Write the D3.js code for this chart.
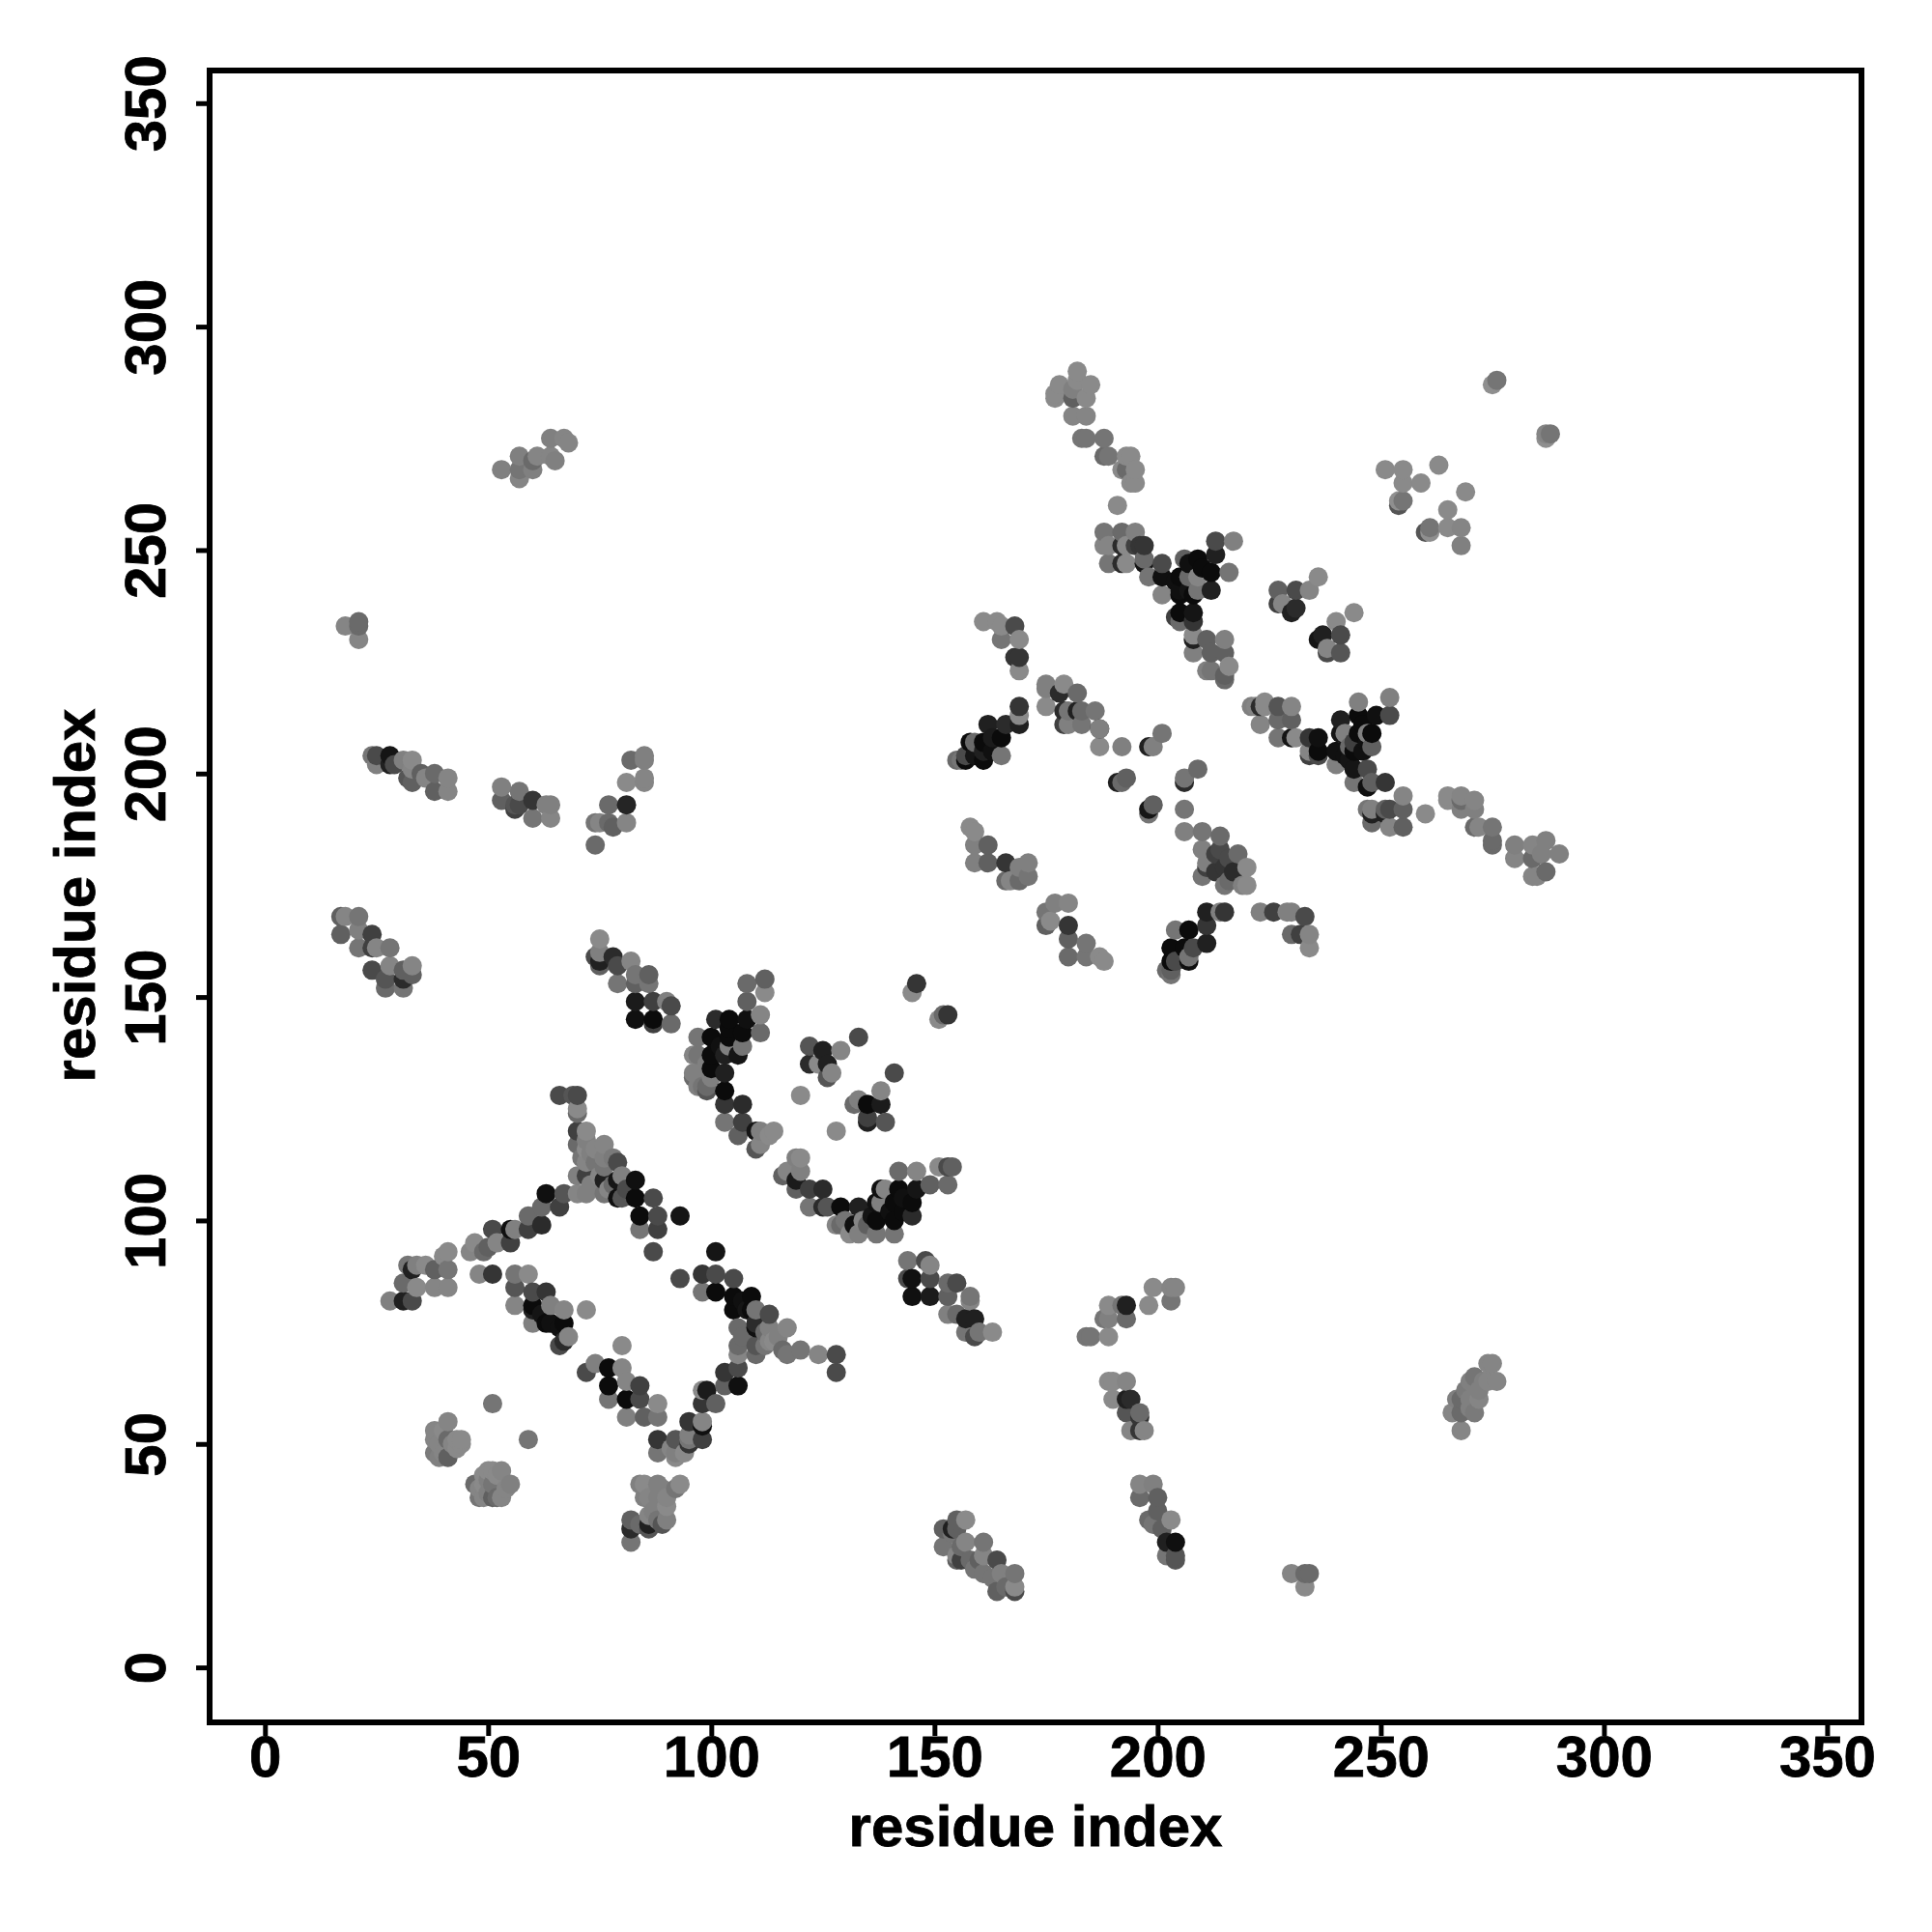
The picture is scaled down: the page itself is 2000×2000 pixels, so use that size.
<!DOCTYPE html>
<html><head><meta charset="utf-8">
<script src="https://cdn.jsdelivr.net/npm/d3@7/dist/d3.min.js"></script>
<style>html,body{margin:0;background:#fff}svg{display:block}
text{font-family:"Liberation Sans",Arial,sans-serif;font-weight:700;fill:#000;stroke:#000;stroke-width:.8}</style>
</head><body><div id="c"></div>
<script>
// Each contact: [residue x, residue y, grey level]
const topRightSparse=[[276,288,110],[275,287,135],[288,276,110],[287,275,135],[287,276,125],[251,268,130],[255,268,130],[255,265,130],[259,265,130],[263,269,130],[255,261,110],[254,260,80],[254,261,135],[269,263,130],[265,259,130],[265,255,130],[268,255,125],[268,251,120],[261,255,110],[260,254,80],[261,254,135]];
const topStrand=[[182,290,130],[178,287,130],[177,285,130],[177,284,130],[181,286,120],[181,284,90],[185,287,130],[184,284,130],[182,288,130],[181,280,125],[184,280,125],[184,275,110],[183,275,110],[188,275,110],[188,271,100],[189,271,110],[193,271,130],[194,271,130],[192,268,130],[195,268,130],[193,268,100],[195,265,130],[194,265,130],[191,260,130],[188,254,110],[192,254,100],[195,254,120],[188,251,125],[189,251,125],[192,251,40],[193,251,130],[195,251,60],[189,247,110],[192,247,40],[193,247,130],[197,251,50],[196,251,50],[197,248,100],[197,247,20],[201,247,70],[198,244,110],[201,244,15],[201,240,125],[206,248,90],[209,248,10],[205,244,10],[207,244,100],[209,244,125],[213,252,70],[217,252,120],[213,249,30],[212,245,10],[216,245,110],[212,241,30],[209,241,110],[205,240,10],[208,240,10],[205,236,10],[208,236,20],[204,235,60],[208,234,50],[205,234,100],[208,231,130],[208,230,30],[208,227,120],[211,230,90],[215,230,120],[212,227,90],[215,227,90],[211,223,120],[212,223,110],[215,222,90],[216,224,130],[215,221,100]];
const sideClusters=[[227,241,90],[231,241,70],[234,241,125],[236,244,130],[227,238,60],[228,238,125],[231,237,40],[230,236,30],[244,236,130],[240,234,130],[237,231,30],[236,230,20],[241,231,70],[241,227,80],[238,227,70],[238,228,125]];
const midUpperLeft=[[161,234,130],[164,234,130],[165,233,130],[168,233,70],[165,230,110],[169,230,130],[169,226,50],[168,226,50],[169,223,130],[169,215,50],[169,211,30],[169,213,130],[162,211,30],[166,211,40],[158,207,10],[159,207,100],[161,207,10],[165,208,10],[165,204,110],[161,203,10],[157,203,10],[156,203,110],[155,203,100],[157,204,70]];
const midCentre=[[175,220,120],[175,219,120],[179,220,130],[175,215,130],[178,218,40],[182,218,100],[179,214,40],[180,214,110],[182,214,30],[183,214,100],[186,214,110],[179,211,60],[180,211,120],[183,211,110],[187,210,60],[187,210,120],[187,206,130],[192,206,120],[198,206,30],[199,206,120],[201,209,110],[192,198,100],[191,198,30],[193,199,90],[198,192,20],[199,193,90],[198,191,110],[209,201,100],[206,199,110],[206,198,40],[206,192,110],[206,187,120]];
const midRight=[[210,187,110],[214,186,100],[210,183,120],[214,183,70],[218,182,100],[211,179,60],[211,180,120],[215,179,50],[217,178,40],[220,179,130],[215,175,110],[219,175,120],[220,175,130]];
const midLowerLeft=[[158,188,130],[159,187,130],[159,184,120],[162,184,90],[159,180,120],[162,180,90],[166,180,50],[169,179,120],[171,180,120],[166,176,100],[167,176,125],[169,176,100],[171,177,110],[177,171,120],[180,171,125],[175,169,110],[176,167,130],[175,166,90],[180,166,50],[180,163,90],[184,162,110],[180,159,100],[184,159,110],[187,159,130],[188,158,130]];
const midLowerBlack=[[211,169,30],[215,169,50],[214,169,120],[204,165,110],[207,165,10],[211,166,50],[211,162,30],[208,161,70],[203,161,10],[206,161,10],[207,158,15],[207,159,110],[204,158,70],[203,156,90],[202,156,100],[203,155,110],[203,158,10],[223,169,120],[226,169,60],[229,169,120],[230,169,120],[233,168,70],[230,164,100],[234,164,125],[234,161,130],[232,164,60]];
const rightStrand=[[221,215,120],[224,216,130],[222,215,125],[223,215,40],[224,215,130],[227,215,80],[230,215,125],[223,211,125],[227,212,100],[230,212,90],[227,208,110],[230,208,20],[231,208,130],[234,208,50],[236,208,15],[234,204,60],[234,205,125],[236,205,10],[236,204,70],[241,212,30],[245,216,120],[252,217,120],[252,213,70],[249,213,15],[245,213,10],[241,209,20],[242,209,120],[245,209,10],[248,209,10],[247,209,120],[240,205,15],[244,205,10],[243,206,100],[248,206,90],[244,207,60],[240,202,120],[244,201,20],[247,201,70],[244,198,110],[247,197,15],[248,198,90],[251,198,50],[255,195,125],[247,192,110],[248,192,120],[248,191,30],[251,192,90],[251,191,30],[252,192,70],[255,192,90],[248,189,100],[252,188,125],[255,188,90],[260,191,130],[265,195,130],[265,194,130],[268,195,125],[268,192,120],[268,194,100],[271,194,125],[271,192,120],[271,188,100],[272,188,125],[275,188,110],[275,185,100],[275,184,100],[280,184,120],[280,181,125],[284,184,125],[287,185,120],[290,182,120],[286,182,120],[284,181,100],[287,178,100],[284,177,125],[285,177,125]];
const centreUpper=[[75,163,130],[74,159,70],[75,160,120],[75,158,30],[75,157,90],[78,159,40],[79,157,70],[82,158,125],[79,153,110],[83,155,110],[83,153,90],[86,155,90],[86,153,110],[83,149,25],[87,149,60],[90,149,120],[91,148,70],[83,145,15],[87,145,10],[91,144,100],[87,144,60]];
const centreBlack=[[108,153,100],[112,154,90],[112,151,130],[108,149,90],[111,146,125],[111,142,100],[101,145,40],[104,145,10],[108,145,15],[97,141,110],[100,141,10],[104,141,10],[107,142,10],[97,137,110],[96,137,125],[100,137,10],[104,139,120],[107,139,110],[103,133,30],[100,133,120],[96,133,120],[96,132,100],[100,132,120],[99,130,100],[100,134,10],[103,129,10],[103,126,50],[107,126,40],[103,122,110],[107,122,60],[106,119,90],[110,120,20],[111,120,120],[114,120,130],[110,116,80],[111,117,125],[113,119,130],[99,129,80]];
const centreSmall=[[146,153,50],[145,151,130],[153,146,50],[151,145,130],[152,146,100],[122,139,80],[122,135,40],[125,138,30],[129,138,125],[133,141,70],[126,135,30],[127,133,125],[126,132,80],[124,135,130],[120,128,130],[128,120,130],[141,133,70],[138,129,125],[138,126,25],[135,126,10],[133,127,120],[132,126,100],[135,123,60],[135,122,30],[139,122,80]];
const centreLower=[[120,114,130],[119,114,120],[116,110,90],[117,111,125],[120,111,120],[119,109,25],[119,107,90],[122,107,60],[125,107,40],[122,103,110],[125,103,40],[126,103,80],[129,103,10],[133,103,30],[129,99,100],[128,99,125],[130,100,110],[132,99,15],[134,100,125],[131,97,130],[133,97,120],[137,97,110],[141,97,110],[137,100,10],[141,100,10],[145,101,40],[138,107,15],[139,107,125],[138,104,120],[137,104,15],[141,104,10],[142,107,10],[142,111,100],[146,111,125],[145,104,10],[146,107,20],[149,108,90],[153,108,100],[151,112,130],[153,112,70],[154,112,90]];
const loopTop=[[66,128,70],[69,128,80],[70,128,70],[70,124,100],[70,125,130],[70,120,60],[72,120,130],[70,117,100],[72,116,130],[76,117,125],[76,114,120],[79,113,70],[72,113,125],[70,110,120],[72,110,60],[76,109,30],[76,112,110],[80,110,120],[79,109,20],[83,109,15],[76,106,110],[77,107,125],[79,105,15],[80,105,80],[83,105,10],[87,105,70],[84,101,10],[88,101,70],[93,101,20],[84,98,110],[88,98,60],[87,93,70],[101,93,20],[93,87,70]];
const loopLeft=[[72,106,120],[70,106,125],[67,106,80],[63,106,15],[66,103,60],[62,103,100],[59,101,100],[62,99,40],[59,98,60],[56,98,120],[55,98,15],[51,98,70],[55,95,60],[52,95,125],[50,94,90],[47,95,130],[46,93,125],[49,93,100],[41,93,130],[40,92,130],[41,89,110],[38,89,90],[36,90,130],[34,90,120],[32,90,110],[33,89,30],[31,86,100],[34,85,130],[38,85,125],[41,85,125],[33,82,70],[31,82,30],[28,82,120],[48,88,125],[51,88,50]];
const loopInner=[[56,88,110],[59,88,130],[56,85,80],[60,84,70],[63,84,50],[56,81,125],[60,81,10],[64,81,120],[67,80,125],[72,80,130],[63,77,10],[60,77,120],[67,77,10],[68,74,125],[66,72,70],[67,73,40],[80,72,130],[72,66,70],[74,68,120],[77,67,10],[80,67,125],[81,64,125],[77,63,10],[84,63,60],[81,60,10],[84,60,70],[77,60,110],[88,59,130],[81,56,120],[85,56,90],[88,56,110],[88,51,50]];
const loopRight=[[98,88,50],[101,88,70],[105,87,70],[98,84,110],[101,84,10],[105,83,10],[109,83,10],[105,80,10],[109,80,10],[110,80,110],[113,79,70],[106,76,100],[110,76,15],[113,76,120],[117,76,125],[106,72,100],[110,72,80],[106,70,125],[110,70,100],[113,73,125],[117,70,110],[114,73,130],[120,71,110],[116,71,100],[124,70,125],[128,70,70],[128,66,70],[106,63,15],[106,67,70],[103,66,50],[103,63,90],[99,62,25],[98,62,130],[101,59,90],[98,59,50],[98,55,125],[98,54,15],[95,55,50],[98,51,60],[95,51,110],[88,48,110],[95,52,120],[95,50,50],[92,51,80],[92,47,130],[92,48,120],[94,48,130],[91,49,125]];
const lowerMiddle=[[85,41,130],[88,41,120],[92,40,110],[93,41,130],[89,40,120],[85,38,120],[90,36,130],[90,33,120],[86,34,125],[86,31,80],[82,33,90],[82,31,40],[82,28,110],[89,32,80],[86,32,30]];
const lowerLeft=[[41,55,125],[38,53,125],[38,48,115],[41,47,90],[41,51,100],[43,51,130],[44,51,130],[43,49,130],[38,51,125],[51,59,110],[59,51,110],[50,44,130],[51,44,130],[47,41,100],[55,41,120],[49,41,130],[51,41,110],[48,38,110],[51,38,90],[53,38,125],[52,38,100],[48,40,125]];
const lowerRightA=[[153,86,100],[155,86,70],[153,83,90],[158,82,125],[153,79,120],[157,78,30],[159,78,30],[157,75,110],[155,79,100],[159,74,70],[160,75,110],[163,75,130],[158,83,110],[144,91,110],[148,91,70],[149,90,125],[145,87,15],[149,87,70],[145,83,15],[149,83,25],[144,87,70]];
const lowerRightB=[[184,74,110],[185,74,110],[189,74,130],[188,78,110],[189,78,120],[193,78,100],[189,81,130],[192,81,110],[193,81,30],[198,81,130],[199,85,130],[203,85,125],[204,85,125],[203,82,110],[189,64,130],[190,64,130],[193,64,125],[190,60,130],[193,60,30],[194,60,40],[193,57,80],[196,57,100],[196,56,50],[194,53,125],[196,53,50],[197,53,125],[196,41,125],[199,41,120],[196,38,100],[200,38,90],[200,35,90],[198,33,100],[199,32,110],[203,33,130],[202,28,30],[204,28,15],[202,25,110],[204,24,80],[204,25,80],[201,31,90]];
const lowerRightC=[[157,33,130],[155,33,90],[152,31,90],[155,31,90],[152,27,110],[154,31,30],[157,28,125],[161,28,110],[155,25,125],[156,24,60],[161,25,125],[164,24,70],[161,21,110],[165,21,120],[168,21,110],[164,17,90],[168,18,130],[168,17,70],[160,24,90],[230,21,125],[233,21,100],[234,21,100],[233,18,130]];
const lowerFar=[[266,57,125],[268,53,125],[268,57,100],[268,60,100],[270,60,120],[271,57,115],[270,64,120],[271,65,110],[272,60,125],[274,68,125],[275,68,125],[274,64,125],[276,64,125]];
const leftUpper=[[18,233,125],[21,234,100],[21,233,100],[21,230,125],[24,204,110],[25,204,70],[25,202,120],[28,204,20],[28,202,30],[29,202,70],[31,203,120],[33,203,130],[32,199,80],[33,198,90],[35,200,90],[36,199,125],[38,200,100],[38,196,90],[41,199,125],[41,196,125],[33,201,125]];
const leftMiddle=[[53,197,120],[53,194,90],[57,196,110],[56,193,80],[57,193,70],[60,194,50],[60,190,110],[63,193,120],[64,193,120],[64,190,125],[56,192,60],[74,189,110],[74,184,100],[77,193,100],[77,189,100],[78,188,90],[81,193,35],[81,189,125],[82,203,100],[85,204,120],[85,203,120],[81,198,130],[85,199,125],[85,198,125],[75,189,125]];
const leftLower=[[17,168,90],[18,168,125],[21,168,110],[17,164,90],[21,165,120],[24,164,60],[21,161,110],[24,161,60],[25,161,125],[28,161,110],[28,157,125],[24,156,70],[27,154,80],[27,152,100],[31,156,90],[33,155,90],[33,157,125],[31,154,40],[31,152,110]];
const upperIsland=[[53,268,120],[57,266,125],[57,268,110],[57,271,120],[60,268,120],[60,270,100],[61,271,125],[64,271,125],[64,275,120],[65,270,120],[67,275,125],[68,274,125]];
const denseLowerPatches=[[39,50,125],[40,53,130],[40,48,125],[42,50,125],[39,47,120],[44,50,130],[49,43,130],[52,43,130],[50,39,120],[49,38,125],[54,40,125],[50,42,120],[53,44,125],[86,38,125],[88,38,120],[87,35,120],[88,33,110],[84,32,100],[90,38,125],[84,41,120],[154,30,110],[156,27,100],[158,24,100],[159,22,110],[163,20,110],[166,18,100],[155,24,90],[267,60,120],[269,62,115],[272,62,120],[270,58,120],[273,64,120]];
const denseCentrePatches=[[72,118,120],[73,115,120],[74,113,110],[75,110,125],[74,116,125],[78,114,115],[71,114,110],[73,108,120],[78,108,100],[81,107,70],[99,135,120],[98,130,110],[97,130,120],[103,137,30],[106,137,20],[104,143,10],[102,139,15],[108,80,20],[107,82,15],[110,77,40],[112,75,100],[115,74,120],[112,72,110],[107,74,100],[60,80,30],[62,79,20],[66,76,15],[64,77,15],[143,105,15],[140,102,15],[136,101,20],[143,102,10],[135,99,90]];
const denseUpperPatches=[[205,241,15],[207,241,20],[204,243,15],[210,246,10],[207,247,15],[243,203,20],[246,205,15],[246,211,10],[242,204,15],[247,207,15],[161,205,30],[163,205,15],[159,204,20],[163,208,25],[213,182,60],[213,178,50],[216,181,70],[216,176,100],[210,177,110]];

const contactGroups=[topRightSparse,topStrand,sideClusters,midUpperLeft,midCentre,midRight,midLowerLeft,midLowerBlack,rightStrand,centreUpper,centreBlack,centreSmall,centreLower,loopTop,loopLeft,loopInner,loopRight,lowerMiddle,lowerLeft,lowerRightA,lowerRightB,lowerRightC,lowerFar,leftUpper,leftMiddle,leftLower,upperIsland,denseLowerPatches,denseCentrePatches,denseUpperPatches];
const tickValues=[0,50,100,150,200,250,300,350];
const axisTitle="residue index";

const svg=d3.select("#c").append("svg").attr("width",2000).attr("height",2000);
const x=d3.scaleLinear().domain([-12.4,357.7]).range([217,1927]);
const y=d3.scaleLinear().domain([-12.3,357.3]).range([1783,73]);
const grey=d3.scaleLinear().domain([0,240]).range(["#000","#fff"]).clamp(true);

const contacts=contactGroups.flat().sort((a,b)=>a[0]-b[0]||a[1]-b[1]);
svg.append("g").selectAll("circle").data(contacts).join("circle")
 .attr("cx",d=>x(d[0])).attr("cy",d=>y(d[1])).attr("r",10).attr("fill",d=>grey(d[2]));

svg.append("rect").attr("x",217).attr("y",73).attr("width",1710).attr("height",1710)
 .attr("fill","none").attr("stroke","#000").attr("stroke-width",6);

const ax=svg.append("g").attr("transform","translate(0,1783)")
 .call(d3.axisBottom(x).tickValues(tickValues).tickSize(14).tickPadding(12));
const ay=svg.append("g").attr("transform","translate(217,0)")
 .call(d3.axisLeft(y).tickValues(tickValues).tickSize(14).tickPadding(12));
[ax,ay].forEach(g=>{g.select(".domain").remove();
 g.selectAll("line").attr("stroke","#000").attr("stroke-width",5);
 g.selectAll("text").attr("font-size",60).style("font-family",'"Liberation Sans",Arial,sans-serif').style("font-weight",700).attr("fill","#000");});
ax.selectAll("text").attr("dy",null).attr("y",56);
ay.selectAll("text").attr("dy",null).attr("x",0).attr("y",0)
 .attr("text-anchor","middle")
 .attr("transform","translate(-46,0) rotate(-90)");
svg.append("text").attr("x",1072).attr("y",1911).attr("text-anchor","middle").attr("font-size",60).text(axisTitle);
svg.append("text").attr("transform","translate(98,927) rotate(-90)").attr("text-anchor","middle").attr("font-size",60).text(axisTitle);
</script></body></html>
